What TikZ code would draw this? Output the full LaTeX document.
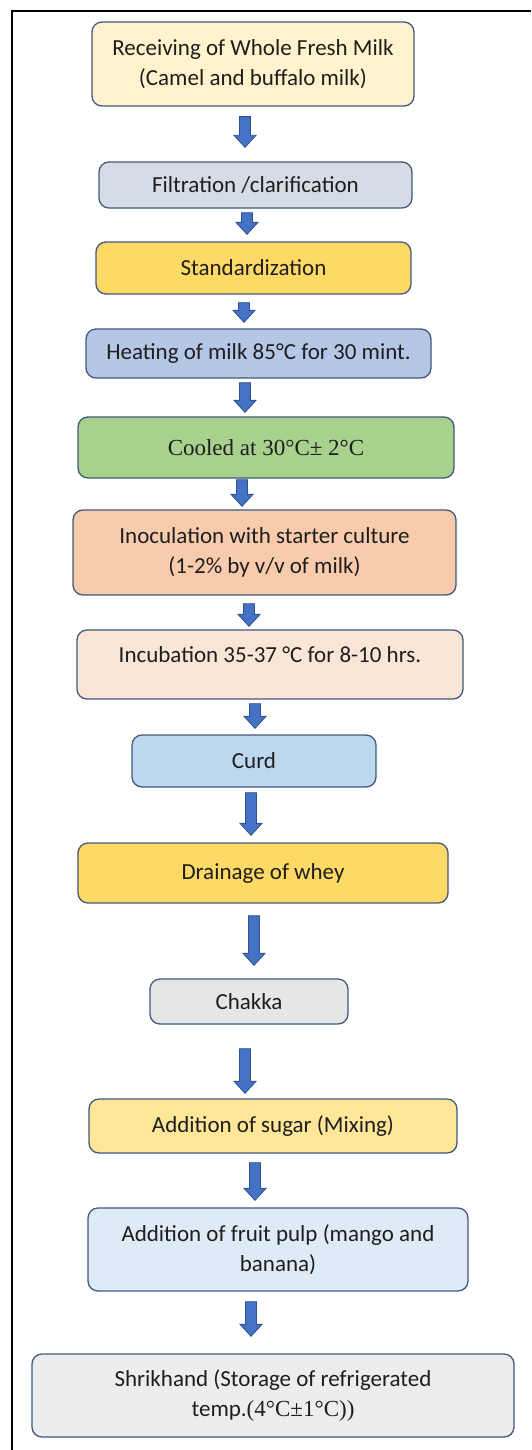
\documentclass[tikz,border=0pt]{standalone}
\usepackage{fontspec}
\setmainfont{Carlito}
\newfontfamily\timesfont{Liberation Serif}
\usetikzlibrary{calc}

\definecolor{boxedge}{HTML}{41597C}
\definecolor{inkgrey}{HTML}{1E1E1E}
\definecolor{arrowblue}{HTML}{4472C4}
\definecolor{arrowedge}{HTML}{2F528F}
\definecolor{recvfill}{HTML}{FFF2CC}
\definecolor{filtfill}{HTML}{D6DCE5}
\definecolor{goldfill}{HTML}{FFD966}
\definecolor{heatfill}{HTML}{B4C7E7}
\definecolor{coolfill}{HTML}{A9D18E}
\definecolor{inocfill}{HTML}{F8CBAD}
\definecolor{incubfill}{HTML}{FBE5D6}
\definecolor{curdfill}{HTML}{BDD7EE}
\definecolor{chakkafill}{HTML}{E7E6E6}
\definecolor{sugarfill}{HTML}{FFE699}
\definecolor{pulpfill}{HTML}{DEEBF7}
\definecolor{shrifill}{HTML}{EDEDED}

\tikzset{
  stage/.style={draw=boxedge, line width=1.3pt, rounded corners=10pt, align=center,
    inner sep=0pt, text=inkgrey, font=\fontsize{23}{30}\selectfont},
  flowarrow/.style={fill=arrowblue, draw=arrowedge, line width=0.8pt,
    to path={let \p1=(\tikztostart), \p2=(\tikztotarget) in
      (\x1-5.5pt,\y1) -- (\x1-5.5pt,\y2+12pt) -- (\x1-11pt,\y2+12pt) -- (\x1,\y2)
      -- (\x1+11pt,\y2+12pt) -- (\x1+5.5pt,\y2+12pt) -- (\x1+5.5pt,\y1) -- cycle}}
}

\begin{document}
\begin{tikzpicture}[x=1pt, y=-1pt]
    \useasboundingbox (0,0) rectangle (531,1450);
    \draw[line width=1.5pt] (12,1450) -- (12,11) -- (531,11);

    \node[stage, fill=recvfill, minimum width=322pt, minimum height=84pt] (recv) at (253,64)
        {Receiving of Whole Fresh Milk\\(Camel and buffalo milk)};
    \node[stage, fill=filtfill, minimum width=313pt, minimum height=46pt] (filt) at (255.5,185)
        {Filtration /clarification};
    \node[stage, fill=goldfill, minimum width=315pt, minimum height=52pt] (std) at (253.5,268)
        {Standardization};
    \node[stage, fill=heatfill, minimum width=345pt, minimum height=49pt] (heat) at (258.5,353.5)
        {Heating of milk 85°C for 30 mint.};
    \node[stage, fill=coolfill, minimum width=376pt, minimum height=61pt] (cool) at (266,447.5)
        {\timesfont Cooled at 30°C± 2°C};
    \node[stage, fill=inocfill, minimum width=383pt, minimum height=85pt] (inoc) at (264.5,552.5)
        {Inoculation with starter culture\\(1-2\% by v/v of milk)};
    \node[stage, fill=incubfill, minimum width=386pt, minimum height=69pt] (incub) at (270,664.5)
        {\raisebox{19pt}{Incubation 35-37 °C for 8-10 hrs.}};
    \node[stage, fill=curdfill, minimum width=244pt, minimum height=52pt] (curd) at (254,761)
        {Curd};
    \node[stage, fill=goldfill, minimum width=370pt, minimum height=60pt] (drain) at (263,873)
        {Drainage of whey};
    \node[stage, fill=chakkafill, minimum width=198pt, minimum height=45pt] (chakka) at (249,1001.5)
        {Chakka};
    \node[stage, fill=sugarfill, minimum width=368pt, minimum height=54pt] (sugar) at (273,1126)
        {Addition of sugar (Mixing)};
    \node[stage, fill=pulpfill, minimum width=380pt, minimum height=83pt] (pulp) at (278,1249.5)
        {Addition of fruit pulp (mango and\\banana)};
    \node[stage, fill=shrifill, minimum width=482pt, minimum height=83pt] (shri) at (273,1395.5)
        {Shrikhand (Storage of refrigerated\\temp.{\timesfont (4°C±1°C))}};

    \draw[flowarrow] ([xshift=-8pt,yshift=-10pt]recv.south) to ([yshift=14pt]filt.north);
    \draw[flowarrow] ([xshift=-8.5pt,yshift=-4pt]filt.south) to ([yshift=7pt]std.north);
    \draw[flowarrow] ([xshift=-9.5pt,yshift=-8pt]std.south) to ([yshift=6pt]heat.north);
    \draw[flowarrow] ([xshift=-13.5pt,yshift=-4pt]heat.south) to ([yshift=4pt]cool.north);
    \draw[flowarrow] ([xshift=-24pt,yshift=-1pt]cool.south) to ([yshift=3pt]inoc.north);
    \draw[flowarrow] ([xshift=-15.5pt,yshift=-8pt]inoc.south) to ([yshift=3pt]incub.north);
    \draw[flowarrow] ([xshift=-15pt,yshift=-4pt]incub.south) to ([yshift=6pt]curd.north);
    \draw[flowarrow] ([xshift=-3pt,yshift=-5pt]curd.south) to ([yshift=7pt]drain.north);
    \draw[flowarrow] ([xshift=-9pt,yshift=-12pt]drain.south) to ([yshift=13pt]chakka.north);
    \draw[flowarrow] ([xshift=-4pt,yshift=-24pt]chakka.south) to ([yshift=5pt]sugar.north);
    \draw[flowarrow] ([xshift=-18pt,yshift=-9pt]sugar.south) to ([yshift=7pt]pulp.north);
    \draw[flowarrow] ([xshift=-27pt,yshift=-10pt]pulp.south) to ([yshift=17pt]shri.north);
\end{tikzpicture}
\end{document}
